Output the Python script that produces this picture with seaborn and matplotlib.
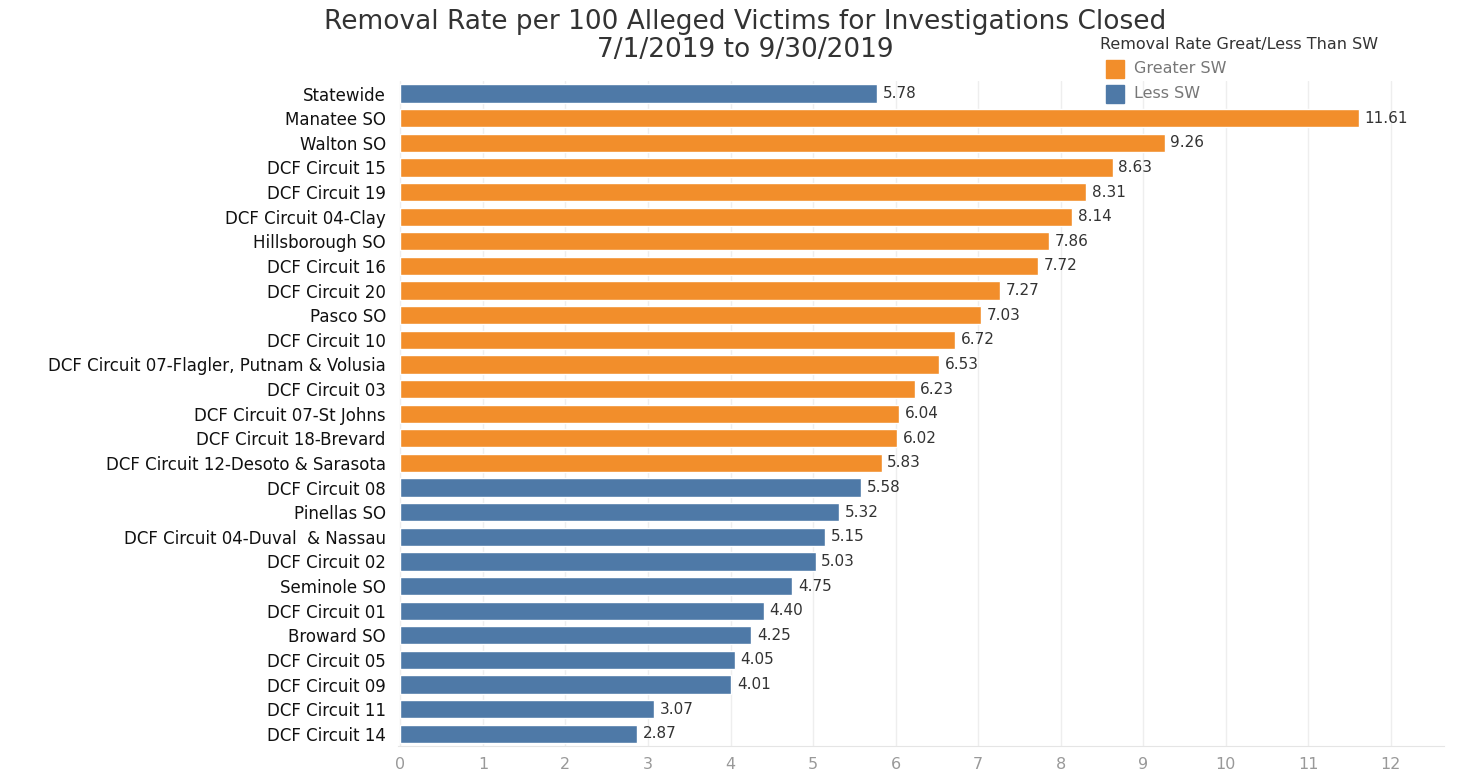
import pandas as pd
import matplotlib.pyplot as plt
import seaborn as sns

# data
regions = [
    "Statewide", "Manatee SO", "Walton SO", "DCF Circuit 15", "DCF Circuit 19",
    "DCF Circuit 04-Clay", "Hillsborough SO", "DCF Circuit 16", "DCF Circuit 20",
    "Pasco SO", "DCF Circuit 10", "DCF Circuit 07-Flagler, Putnam & Volusia",
    "DCF Circuit 03", "DCF Circuit 07-St Johns", "DCF Circuit 18-Brevard",
    "DCF Circuit 12-Desoto & Sarasota", "DCF Circuit 08", "Pinellas SO",
    "DCF Circuit 04-Duval  & Nassau", "DCF Circuit 02", "Seminole SO",
    "DCF Circuit 01", "Broward SO", "DCF Circuit 05", "DCF Circuit 09",
    "DCF Circuit 11", "DCF Circuit 14",
]
rates = [5.78, 11.61, 9.26, 8.63, 8.31, 8.14, 7.86, 7.72, 7.27, 7.03, 6.72, 6.53,
         6.23, 6.04, 6.02, 5.83, 5.58, 5.32, 5.15, 5.03, 4.75, 4.40, 4.25, 4.05,
         4.01, 3.07, 2.87]
groups = ["Less SW"] + ["Greater SW"] * 15 + ["Less SW"] * 11

df = pd.DataFrame({"region": regions, "rate": rates, "group": groups})

palette = {"Greater SW": "#F28E2B", "Less SW": "#4E79A7"}

sns.set_style("white")
plt.rcParams["font.family"] = ["DejaVu Sans"]

fig = plt.figure(figsize=(14.59, 7.74), dpi=100)
ax = fig.add_axes([0.273, 0.036, 0.717, 0.859])

sns.barplot(data=df, x="rate", y="region", hue="group", palette=palette,
            hue_order=["Greater SW", "Less SW"], dodge=False, width=0.74,
            saturation=1, orient="h", ax=ax, legend=False)

for i, v in enumerate(rates):
    ax.text(v + 0.07, i, f"{v:.2f}", va="center", ha="left", fontsize=11, color="#333333")

ax.set_xlim(-0.025, 12.65)
ax.set_ylim(len(regions) - 0.5, -0.5)
ax.set_xticks(range(0, 13))
ax.tick_params(axis="x", colors="#999999", labelsize=11.5, length=0, pad=8)
ax.tick_params(axis="y", labelsize=12, length=0, pad=9, labelcolor="#111111")
ax.xaxis.grid(True, color="#eeeeee", linewidth=1)
ax.set_axisbelow(True)
for s in ["top", "right", "left"]:
    ax.spines[s].set_visible(False)
ax.spines["bottom"].set_color("#e5e5e5")
ax.set_xlabel("")
ax.set_ylabel("")

# title, two lines
fig.text(0.511, 0.971, "Removal Rate per 100 Alleged Victims for Investigations Closed",
         ha="center", va="center", fontsize=19, color="#333333")
fig.text(0.511, 0.935, "7/1/2019 to 9/30/2019",
         ha="center", va="center", fontsize=19, color="#333333")

# legend
fig.text(0.754, 0.943, "Removal Rate Great/Less Than SW", fontsize=11.5, color="#333333", va="center")
for k, (lab, col) in enumerate(palette.items()):
    y = 0.911 - k * 0.032
    fig.patches.append(plt.Rectangle((0.758, y - 0.0115), 0.0125, 0.023, color=col,
                                     transform=fig.transFigure, figure=fig))
    fig.text(0.777, y, lab, fontsize=11.5, color="#777777", va="center")

fig.savefig("out.png", dpi=100)
